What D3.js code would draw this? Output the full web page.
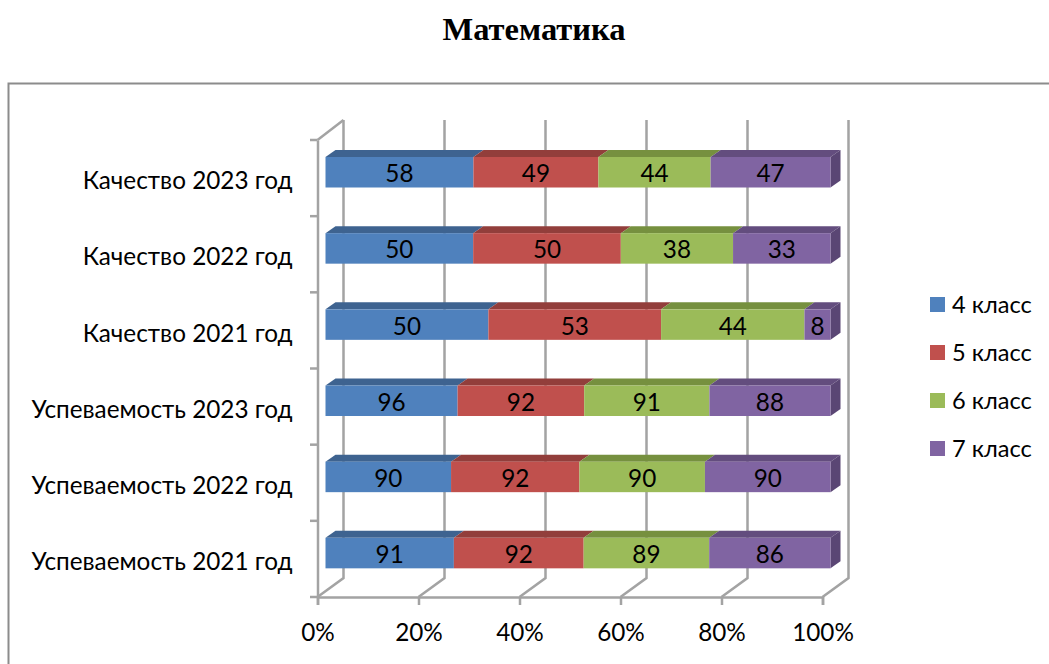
<!DOCTYPE html>
<html><head><meta charset="utf-8">
<script src="https://cdn.jsdelivr.net/npm/d3@7"></script>
<style>html,body{margin:0;padding:0;background:#fff}svg{display:block}text{font-family:Lato,"Open Sans",sans-serif;fill:#000}</style>
</head><body><svg id="c" width="1049" height="664"></svg>
<script>
const categories=["Успеваемость 2021 год","Успеваемость 2022 год","Успеваемость 2023 год","Качество 2021 год","Качество 2022 год","Качество 2023 год"];
const seriesNames=["4 класс","5 класс","6 класс","7 класс"];
const grade4=[91,90,96,50,50,58];
const grade5=[92,92,92,53,50,49];
const grade6=[89,90,91,44,38,44];
const grade7=[86,90,88,8,33,47];
const colors=["#4f81bd","#c0504d","#9bbb59","#8064a2"];
const topColors=["#3e6390","#923e3b","#76903f","#634d7e"];
const sideColor="#5a4674";
const xTicks=[0,.2,.4,.6,.8,1];
const title="Математика";

const svg=d3.select("#c");
const grid="#a3a3a3";
const fs="24.3px";
svg.append("path").attr("d","M8.5,664V83.5H1049").attr("fill","none").attr("stroke","#8c8c8c").attr("stroke-width",2);
svg.append("text").attr("x",534).attr("y",40).attr("text-anchor","middle").style("font-family","'Liberation Serif',serif").style("font-weight","bold").style("font-size","32.5px").text(title);

const x=d3.scaleLinear().domain([0,1]).range([317.5,822.5]);
const y=d3.scaleBand().domain(categories.slice().reverse()).range([140,597]);
const wallDX=26,wallDY=-19,barDX=8,depthX=10,depthY=-7;
const barPad=17,barH=30.5;
const rows=categories.map((c,i)=>({cat:c,v0:grade4[i],v1:grade5[i],v2:grade6[i],v3:grade7[i]}));
const stack=d3.stack().keys(["v0","v1","v2","v3"]).offset(d3.stackOffsetExpand)(rows);

const g=svg.append("g").attr("fill","none").attr("stroke",grid).attr("stroke-width",2.5);
xTicks.forEach(t=>{
  g.append("path").attr("d",`M${x(t)},597L${x(t)+wallDX},${597+wallDY}V120`);
});
g.append("path").attr("d",`M${x(0)},140L${x(0)+wallDX},120`);
const bars=svg.append("g");
stack.forEach((s,k)=>{
  const gs=bars.append("g");
  s.forEach(d=>{
    const c=d.data.cat,x0=x(d[0])+barDX,x1=x(d[1])+barDX,yt=y(c)+barPad,yb=yt+barH;
    gs.append("path").attr("fill",topColors[k]).attr("d",`M${x0},${yt}L${x0+depthX},${yt+depthY}H${x1+depthX}L${x1},${yt}Z`);
    if(k===3) gs.append("path").attr("fill",sideColor).attr("d",`M${x1},${yt}L${x1+depthX},${yt+depthY}V${yb+depthY}L${x1},${yb}Z`);
    gs.append("rect").attr("x",x0).attr("y",yt).attr("width",x1-x0).attr("height",barH).attr("fill",colors[k]);
  });
});
stack.forEach((s,k)=>{
  s.forEach(d=>{
    const c=d.data.cat;
    svg.append("text").attr("x",(x(d[0])+x(d[1]))/2+barDX).attr("y",y(c)+barPad+barH/2+10).attr("text-anchor","middle").style("font-size",fs).text(d.data["v"+k]);
  });
});
const ax=svg.append("g").attr("transform","translate(0,597)").call(d3.axisBottom(x).tickValues(xTicks).tickFormat(d3.format(".0%")).tickSize(8).tickPadding(19));
ax.selectAll("text").style("font-size",fs).style("font-family","Lato,sans-serif").attr("fill","#000");
const ay=svg.append("g").attr("transform","translate(317.5,0)").call(d3.axisLeft(y).tickSizeOuter(0).tickSize(0).tickPadding(25));
ay.selectAll("text").style("font-size",fs).style("font-family","Lato,sans-serif").attr("fill","#000").attr("dy","0.46em");
svg.selectAll(".domain").attr("stroke",grid).attr("stroke-width",2.5);
svg.selectAll(".tick line").attr("stroke",grid).attr("stroke-width",2.5);
const yEdge=d3.range(0,7).map(i=>140+i*y.step());
svg.append("g").selectAll("path").data(yEdge).join("path").attr("d",d=>`M310,${d}H317.5`).attr("stroke",grid).attr("stroke-width",2.5);
const leg=svg.append("g");
seriesNames.forEach((n,i)=>{
  const ly=304+i*48;
  leg.append("rect").attr("x",930).attr("y",ly-7).attr("width",15).attr("height",15).attr("fill",colors[i]);
  leg.append("text").attr("x",952).attr("y",ly+9).style("font-size","23.6px").text(n);
});
</script></body></html>
